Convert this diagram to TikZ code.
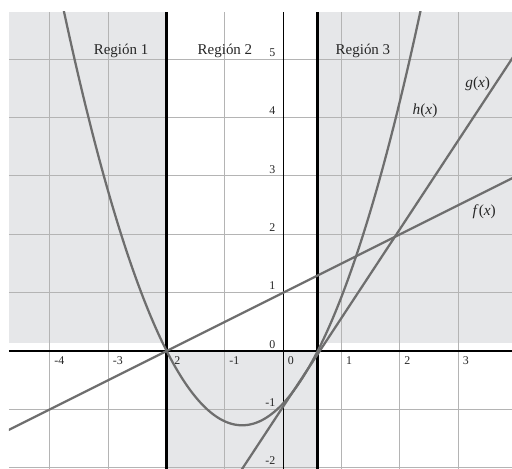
\documentclass[tikz,border=0pt]{standalone}
\usepackage{fontspec}
\setmainfont{Liberation Serif}
\definecolor{regiongray}{HTML}{E6E7E9}
\definecolor{gridgray}{HTML}{B4B4B4}
\definecolor{curvegray}{HTML}{6E6E6E}
\begin{document}
\begin{tikzpicture}[x=1cm,y=1cm,
  regionfill/.style={fill=regiongray,draw=none},
  gridline/.style={draw=gridgray,line width=0.5pt},
  curve/.style={draw=curvegray,line width=1.1pt},
  regionline/.style={draw=black,line width=1.5pt},
  axisline/.style={draw=black,line width=0.6pt},
  ticklabel/.style={font=\fontsize{5.8}{6}\selectfont,inner sep=0pt,text=black!85},
  regionlabel/.style={font=\fontsize{7.3}{8}\selectfont,inner sep=0pt,text=black!85},
  funclabel/.style={font=\fontsize{7.5}{8}\selectfont,inner sep=0pt,text=black!85}]
\useasboundingbox (-4.857,-2.023) rectangle (3.921,6.017);
% shaded regions
\fill[regionfill] (-4.703,0.137) rectangle (-2,5.812);
\fill[regionfill] (-2,-2.023) rectangle (0.59,0);
\fill[regionfill] (0.59,0.137) rectangle (3.921,5.812);
% grid
\foreach \x in {-4,...,3} \draw[gridline] (\x,-2.023) -- (\x,5.812);
\foreach \y in {-2,...,5} \draw[gridline] (-4.703,\y) -- (3.921,\y);
% axes
\draw[axisline] (-4.703,0) -- (3.921,0);
\draw[axisline] (0,-2.023) -- (0,5.812);
% region boundaries
\draw[regionline] (-2,-2.023) -- (-2,5.812);
\draw[regionline] (0.59,-2.023) -- (0.59,5.812);
% tick labels
\foreach \k in {-2,...,5} \node[ticklabel,anchor=base east] (yl\k) at (-0.13,\k+0.05) {\k};
\foreach \k in {-4,-3,-1,0,1,2,3} \node[ticklabel,anchor=base west] (xl\k) at (\k+0.07,-0.24) {\k};
\node[ticklabel,anchor=base west] (xlm2) at (-1.874,-0.24) {2};
% region labels
\node[regionlabel,anchor=base] (r1) at (-2.781,5.075) {Región 1};
\node[regionlabel,anchor=base] (r2) at (-1.0,5.075) {Región 2};
\node[regionlabel,anchor=base] (r3) at (1.366,5.075) {Región 3};
% curves
\begin{scope}
\clip (-4.703,-2.023) rectangle (3.921,5.812);
\draw[curve] plot[domain=-4.8:4.0,samples=2] (\x,{0.5*\x+1});
\draw[curve] plot[domain=-0.8:4.0,samples=2] (\x,{1.52*\x-0.95});
\draw[curve] plot[domain=-3.8:2.4,samples=120,smooth] (\x,{0.76*(\x+2)*(\x-0.59)});
\end{scope}
% function labels
\node[funclabel,anchor=base] (hl) at (2.43,4.05) {\textit{h}(\textit{x})};
\node[funclabel,anchor=base] (gl) at (3.333,4.514) {\textit{g}(\textit{x})};
\node[funclabel,anchor=base] (fl) at (3.446,2.33) {\textit{f}(\textit{x})};
\end{tikzpicture}
\end{document}
